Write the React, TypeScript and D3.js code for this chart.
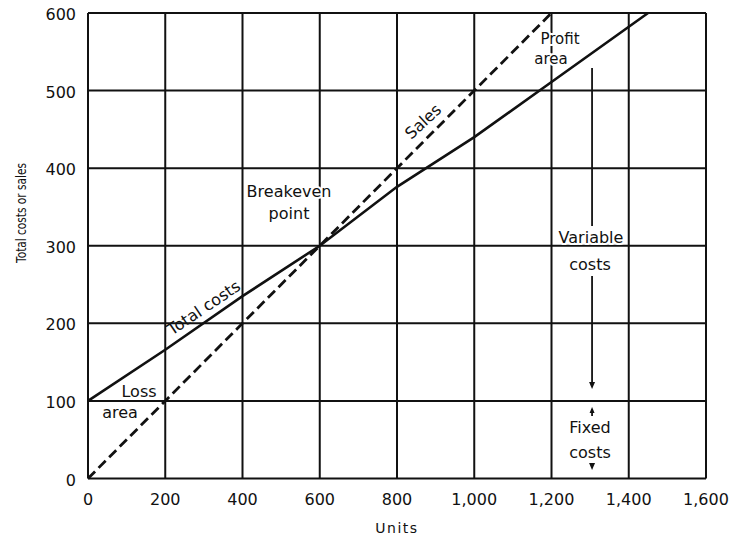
import React from 'react';
import * as d3 from 'd3';

// ---- data ----
const costUnits = [0, 200, 400, 600, 800, 1000, 1200, 1450];
const totalCosts = [100, 166, 235, 300, 376, 440, 511, 600];
const salesUnits = [0, 200, 400, 600, 800, 1000, 1200];
const salesValues = [0, 100, 200, 300, 400, 500, 600];
const xTicks = [0, 200, 400, 600, 800, 1000, 1200, 1400, 1600];
const xTickLabels = ['0', '200', '400', '600', '800', '1,000', '1,200', '1,400', '1,600'];
const yTicks = [0, 100, 200, 300, 400, 500, 600];
const yTickLabels = ['0', '100', '200', '300', '400', '500', '600'];

const W = 731;
const H = 536;
const FONT = '"DejaVu Sans", "Open Sans", sans-serif';
const INK = '#111';

export default function App() {
  const x = d3.scaleLinear().domain([0, 1600]).range([88, 706]);
  const y = d3.scaleLinear().domain([0, 600]).range([478.5, 13]);

  const costPts: [number, number][] = costUnits.map((u, i) => [u, totalCosts[i]]);
  const salesPts: [number, number][] = salesUnits.map((u, i) => [u, salesValues[i]]);
  const line = d3
    .line<[number, number]>()
    .x((d) => x(d[0]))
    .y((d) => y(d[1]));

  const costAt = d3.scaleLinear().domain(costUnits).range(totalCosts);
  const salesAt = d3.scaleLinear().domain(salesUnits).range(salesValues);

  const halo = { stroke: '#fff', strokeWidth: 4, paintOrder: 'stroke' as const, strokeLinejoin: 'round' as const };
  const label = (t: string, cx: number, by: number, size = 16) => (
    <text x={cx} y={by} textAnchor="middle" fontFamily={FONT} fontSize={size} fill={INK} {...halo}>
      {t}
    </text>
  );

  // rotated labels along lines
  const tcU = 318;
  const tcX = x(tcU);
  const tcY = y(costAt(tcU));
  const slU = 893;
  const slX = x(slU);
  const slY = y(salesAt(slU));

  const ax = x(1305);
  const arrowDown = (tipY: number) => (
    <path d={`M${ax - 3},${tipY - 7} L${ax + 3},${tipY - 7} L${ax},${tipY} Z`} fill={INK} />
  );
  const arrowUp = (tipY: number) => (
    <path d={`M${ax - 2.5},${tipY + 6} L${ax + 2.5},${tipY + 6} L${ax},${tipY} Z`} fill={INK} />
  );

  return (
    <svg
      width={W}
      height={H}
      viewBox={`0 0 ${W} ${H}`}
      style={{ position: 'absolute', left: 0, top: 0, background: '#fff' }}
    >
      <rect x={0} y={0} width={W} height={H} fill="#fff" />
      {/* grid */}
      <g stroke={INK} strokeWidth={2}>
        {xTicks.map((t) => (
          <line key={'gx' + t} x1={x(t)} x2={x(t)} y1={y(0)} y2={y(600)} />
        ))}
        {yTicks.map((t) => (
          <line key={'gy' + t} x1={x(0)} x2={x(1600)} y1={y(t)} y2={y(t)} />
        ))}
      </g>
      {/* tick labels */}
      <g fontFamily={FONT} fontSize={16} fill={INK}>
        {xTicks.map((t, i) => (
          <text key={'tx' + t} x={x(t)} y={505} textAnchor="middle">
            {xTickLabels[i]}
          </text>
        ))}
        {yTicks.map((t, i) => (
          <text key={'ty' + t} x={76} y={y(t) + 7} textAnchor="end">
            {yTickLabels[i]}
          </text>
        ))}
      </g>
      {/* axis titles */}
      <text
        x={397}
        y={533}
        textAnchor="middle"
        fontFamily={FONT}
        fontSize={14}
        letterSpacing={1.5}
        fill={INK}
      >
        Units
      </text>
      <text
        transform="translate(26,213) rotate(-90)"
        textAnchor="middle"
        fontFamily={FONT}
        fontSize={14}
        textLength={100}
        lengthAdjust="spacingAndGlyphs"
        fill={INK}
      >
        Total costs or sales
      </text>

      {/* labels with white halos (mask grid) */}
      {label('Breakeven', 289, 197)}
      {label('point', 289, 219)}
      {label('Profit', 560, 44, 15)}
      {label('area', 551, 64, 15)}
      {label('Loss', 139, 397)}
      {label('area', 120, 418)}
      {label('Variable', 591, 243)}
      {label('costs', 590, 270)}
      {label('Fixed', 590, 433)}
      {label('costs', 590, 458)}

      {/* data lines */}
      <path d={line(salesPts) || ''} fill="none" stroke={INK} strokeWidth={2.8} strokeDasharray="10 5" />
      <path d={line(costPts) || ''} fill="none" stroke={INK} strokeWidth={2.6} />

      {/* rotated line labels */}
      <text
        transform={`translate(${tcX},${tcY}) rotate(-34)`}
        dy={-7}
        textAnchor="middle"
        fontFamily={FONT}
        fontSize={16}
        fill={INK}
      >
        Total costs
      </text>
      <text
        transform={`translate(${slX},${slY}) rotate(-43)`}
        dy={-9}
        textAnchor="middle"
        fontFamily={FONT}
        fontSize={16}
        fill={INK}
      >
        Sales
      </text>

      {/* variable / fixed cost arrows */}
      <g stroke={INK} strokeWidth={1.8}>
        <line x1={ax} x2={ax} y1={68} y2={226} />
        <line x1={ax} x2={ax} y1={276} y2={383} />
        <line x1={ax} x2={ax} y1={409} y2={416} />
      </g>
      {arrowDown(389)}
      {arrowUp(407)}
      {arrowDown(470)}
    </svg>
  );
}
